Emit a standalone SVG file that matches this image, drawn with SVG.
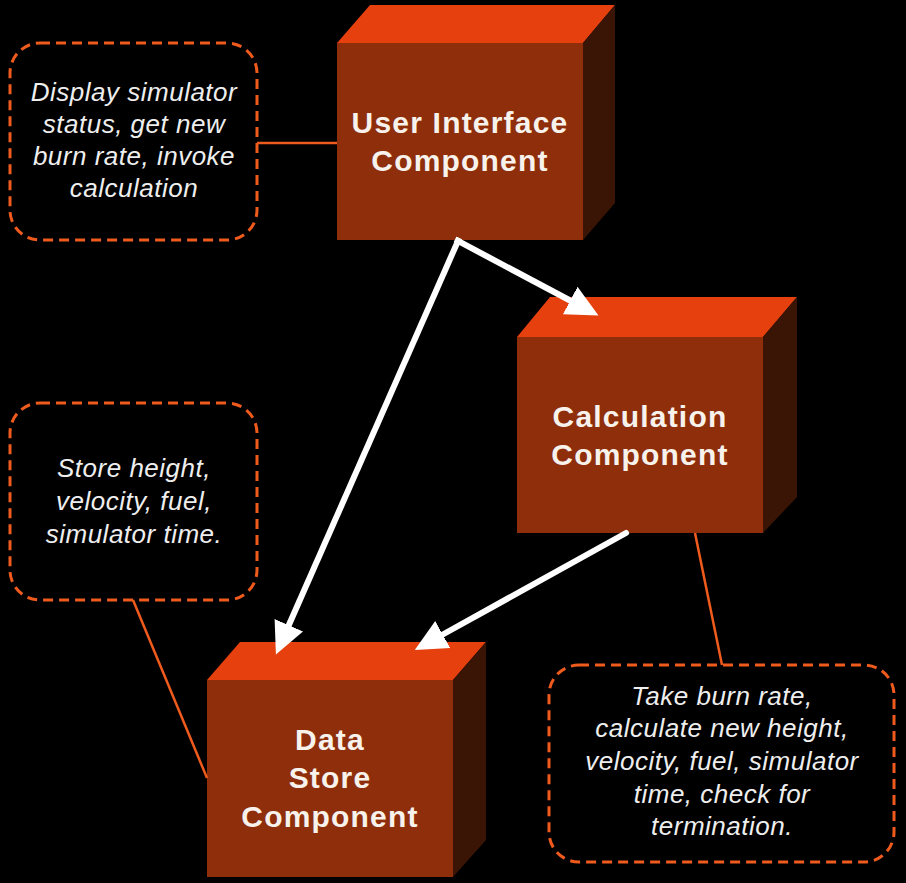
<svg xmlns="http://www.w3.org/2000/svg" width="906" height="883" viewBox="0 0 906 883">
  <defs>
    <style>
      .top { fill: #e5400e; }
      .front { fill: #8f2e0b; }
      .side { fill: #3a1506; }
      .ntext { font-family: "Liberation Sans", Arial, Helvetica, sans-serif; font-weight: bold; font-size: 30px; letter-spacing: 1.2px; fill: #f7f2ec; text-anchor: middle; }
      .note { fill: none; stroke: #ef5a1d; stroke-width: 3; stroke-dasharray: 10 6; }
      .ctext { font-family: "Liberation Sans", Arial, Helvetica, sans-serif; font-style: italic; font-size: 26px; letter-spacing: 0.5px; fill: #eeeeee; text-anchor: middle; }
      .arrow { fill: none; stroke: #ffffff; stroke-width: 6; }
      .link { fill: none; stroke: #ef5a1d; stroke-width: 2.5; }
    </style>
    <marker id="head" markerUnits="userSpaceOnUse" markerWidth="34" markerHeight="34" viewBox="0 -17 34 34" refX="2" refY="0" orient="auto">
      <path d="M0,-15.5 L32,0 L0,15.5 z" fill="#ffffff"/>
    </marker>
  </defs>
  <rect x="0" y="0" width="906" height="883" fill="#000000"/>

  <g id="note-ui">
    <rect class="note" x="10" y="43" width="247" height="197" rx="30" ry="30"/>
    <text class="ctext" x="134" y="101">Display simulator</text>
    <text class="ctext" x="134" y="133">status, get new</text>
    <text class="ctext" x="134" y="165">burn rate, invoke</text>
    <text class="ctext" x="134" y="197">calculation</text>
  </g>

  <g id="note-store">
    <rect class="note" x="10" y="403" width="247" height="197" rx="30" ry="30"/>
    <text class="ctext" x="134" y="477">Store height,</text>
    <text class="ctext" x="134" y="510">velocity, fuel,</text>
    <text class="ctext" x="134" y="543">simulator time.</text>
  </g>

  <g id="note-calc">
    <rect class="note" x="549" y="665" width="345" height="197" rx="30" ry="30"/>
    <text class="ctext" x="722" y="705">Take burn rate,</text>
    <text class="ctext" x="722" y="737">calculate new height,</text>
    <text class="ctext" x="722" y="770">velocity, fuel, simulator</text>
    <text class="ctext" x="722" y="803">time, check for</text>
    <text class="ctext" x="722" y="835">termination.</text>
  </g>

  <g id="ui-component">
    <polygon class="top" points="337,43 370,5 615,5 583,43"/>
    <polygon class="side" points="583,43 615,5 615,203 583,240"/>
    <rect class="front" x="337" y="43" width="246" height="197"/>
    <text class="ntext" x="460" y="133">User Interface</text>
    <text class="ntext" x="460" y="171">Component</text>
  </g>

  <g id="calc-component">
    <polygon class="top" points="517,337 550,297 797,297 763,337"/>
    <polygon class="side" points="763,337 797,297 797,497 763,533"/>
    <rect class="front" x="517" y="337" width="246" height="196"/>
    <text class="ntext" x="640" y="427">Calculation</text>
    <text class="ntext" x="640" y="465">Component</text>
  </g>

  <g id="store-component">
    <polygon class="top" points="207,680 240,642 486,642 453,680"/>
    <polygon class="side" points="453,680 486,642 486,840 453,877"/>
    <rect class="front" x="207" y="680" width="246" height="197"/>
    <text class="ntext" x="330" y="750">Data</text>
    <text class="ntext" x="330" y="788">Store</text>
    <text class="ntext" x="330" y="827">Component</text>
  </g>

  <g id="connectors">
    <line class="link" x1="257" y1="143" x2="337" y2="143"/>
    <line class="link" x1="133" y1="600" x2="207" y2="778"/>
    <line class="link" x1="695" y1="533" x2="722" y2="665"/>
    <line class="arrow" x1="455.1" y1="239.4" x2="572" y2="301.5" marker-end="url(#head)"/>
    <line class="arrow" x1="459.3" y1="238" x2="288" y2="627" marker-end="url(#head)"/>
    <line class="arrow" x1="626" y1="533" x2="441" y2="635.5" stroke-linecap="round" marker-end="url(#head)"/>
  </g>
</svg>
